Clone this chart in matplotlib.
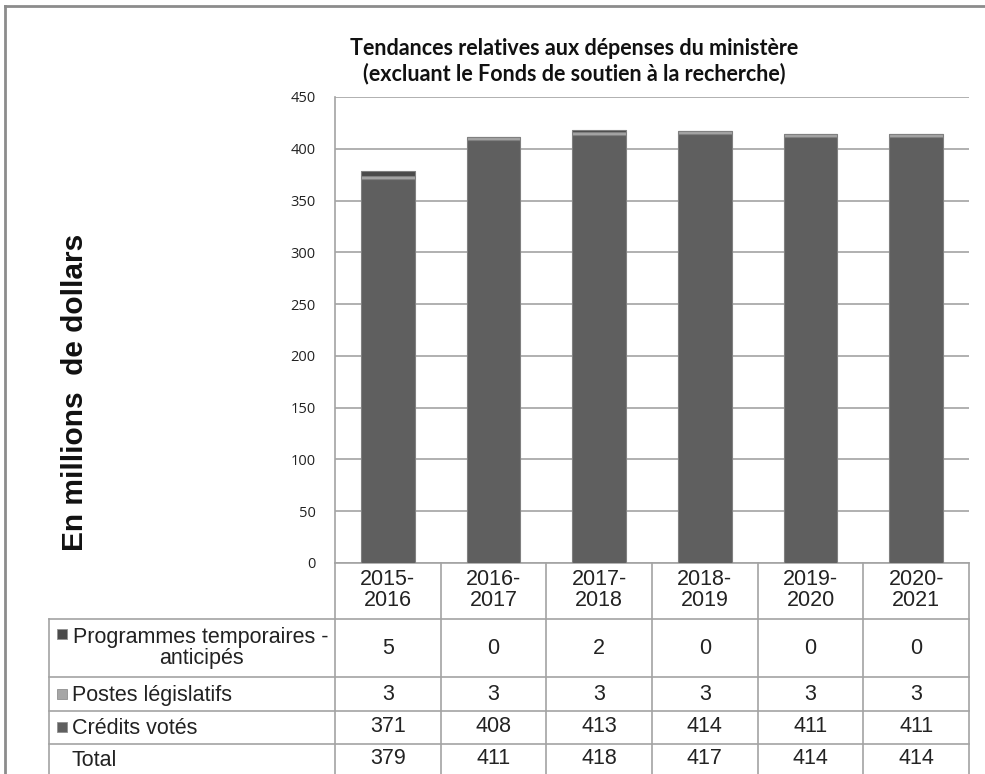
import matplotlib.pyplot as plt
from matplotlib.lines import Line2D
from matplotlib.patches import Rectangle

# données
annees = ["2015-\n2016", "2016-\n2017", "2017-\n2018", "2018-\n2019", "2019-\n2020", "2020-\n2021"]
credits_votes = [371, 408, 413, 414, 411, 411]
postes_legislatifs = [3, 3, 3, 3, 3, 3]
programmes_temp = [5, 0, 2, 0, 0, 0]
totaux = [379, 411, 418, 417, 414, 414]

titre = "Tendances relatives aux dépenses du ministère\n(excluant le Fonds de soutien à la recherche)"
label_y = "En millions  de dollars"
noms_series = ["Programmes temporaires -\nanticipés", "Postes législatifs", "Crédits votés", "Total"]

cor_credits = "#5f5f5f"
cor_postes = "#a6a6a6"
cor_prog = "#4a4a4a"
cor_linha = "#a3a3a3"

W, H = 985, 774
fig = plt.figure(figsize=(W / 100, H / 100), dpi=100)


def fx(px):
    return px / W


def fy(py):
    return 1 - py / H


def linha(x0, y0, x1, y1, cor=cor_linha, lw=1.2):
    fig.add_artist(Line2D([fx(x0), fx(x1)], [fy(y0), fy(y1)], color=cor, lw=lw))


# zone du graphique
x_esq, x_dir, y_top, y_base = 335, 969, 97, 563
ax = fig.add_axes([fx(x_esq), fy(y_base), (x_dir - x_esq) / W, (y_base - y_top) / H])

x = list(range(len(annees)))
largura = 0.51
borda = dict(edgecolor="#808080", linewidth=0.8)
ax.bar(x, credits_votes, largura, color=cor_credits, zorder=3, **borda)
base2 = credits_votes
ax.bar(x, postes_legislatifs, largura, bottom=base2, color=cor_postes, zorder=3, **borda)
base3 = [a + b for a, b in zip(credits_votes, postes_legislatifs)]
ax.bar(x, programmes_temp, largura, bottom=base3, color=cor_prog, zorder=3, **borda)

ax.set_xlim(-0.5, len(annees) - 0.5)
ax.set_ylim(0, 450)
ax.set_yticks(range(0, 451, 50))
ax.yaxis.grid(True, color=cor_linha, lw=1.2)
ax.set_axisbelow(True)
ax.set_xticks([])
ax.tick_params(axis="y", length=0, pad=14, labelsize=10.5, labelcolor="#222222")
for lab in ax.get_yticklabels():
    lab.set_family("Open Sans")
for s in ["top", "right"]:
    ax.spines[s].set_visible(False)
ax.spines["left"].set_color(cor_linha)
ax.spines["left"].set_linewidth(1.2)
ax.spines["bottom"].set_color(cor_linha)
ax.spines["bottom"].set_linewidth(1.2)

# titre et axe
fig.text(fx(574), fy(61), titre, ha="center", va="center", family="Lato",
         fontweight="bold", fontsize=15.5, linespacing=1.2, color="#111111")
fig.text(fx(75), fy(392), label_y, rotation=90, ha="center", va="center",
         family="Liberation Sans", fontweight="bold", fontsize=21.5, color="#111111")

# tableau de données
col_w = (x_dir - x_esq) / len(annees)
x_tab = 49
linhas_y = [619, 677, 711, 744]
centros_y = [648, 694, 727, 759]
fonte = dict(family="Liberation Sans", fontsize=15.5, color="#222222")

for k in range(len(annees) + 1):
    xc = x_esq + k * col_w
    linha(xc, y_base, xc, H)
linha(x_tab, linhas_y[0], x_tab, H)
for yl in linhas_y:
    linha(x_tab, yl, x_dir, yl)

for i, a in enumerate(annees):
    xc = x_esq + (i + 0.5) * col_w
    fig.text(fx(xc), fy(590), a, ha="center", va="center", linespacing=1.0, **fonte)

valores = [programmes_temp, postes_legislatifs, credits_votes, totaux]
cores_leg = [cor_prog, cor_postes, cor_credits, None]
for r, (nome, vals, cor) in enumerate(zip(noms_series, valores, cores_leg)):
    yc = centros_y[r]
    if r == 0:
        fig.text(fx(201), fy(yc), nome, ha="center", va="center", multialignment="center",
                 linespacing=1.0, **fonte)
        yq = 634
    else:
        fig.text(fx(72), fy(yc + 1), nome, ha="left", va="center", **fonte)
        yq = yc
    if cor is not None:
        fig.add_artist(Rectangle((fx(57), fy(yq + 5)), 10 / W, 10 / H, facecolor=cor,
                                 edgecolor="#909090", lw=0.6))
    for i, v in enumerate(vals):
        xc = x_esq + (i + 0.5) * col_w
        fig.text(fx(xc), fy(yc), str(v), ha="center", va="center", **fonte)

# cadre extérieur
linha(5, 6, W, 6, cor="#8c8c8c", lw=2)
linha(5, 6, 5, H, cor="#8c8c8c", lw=2)

fig.savefig("out.png", dpi=100)
